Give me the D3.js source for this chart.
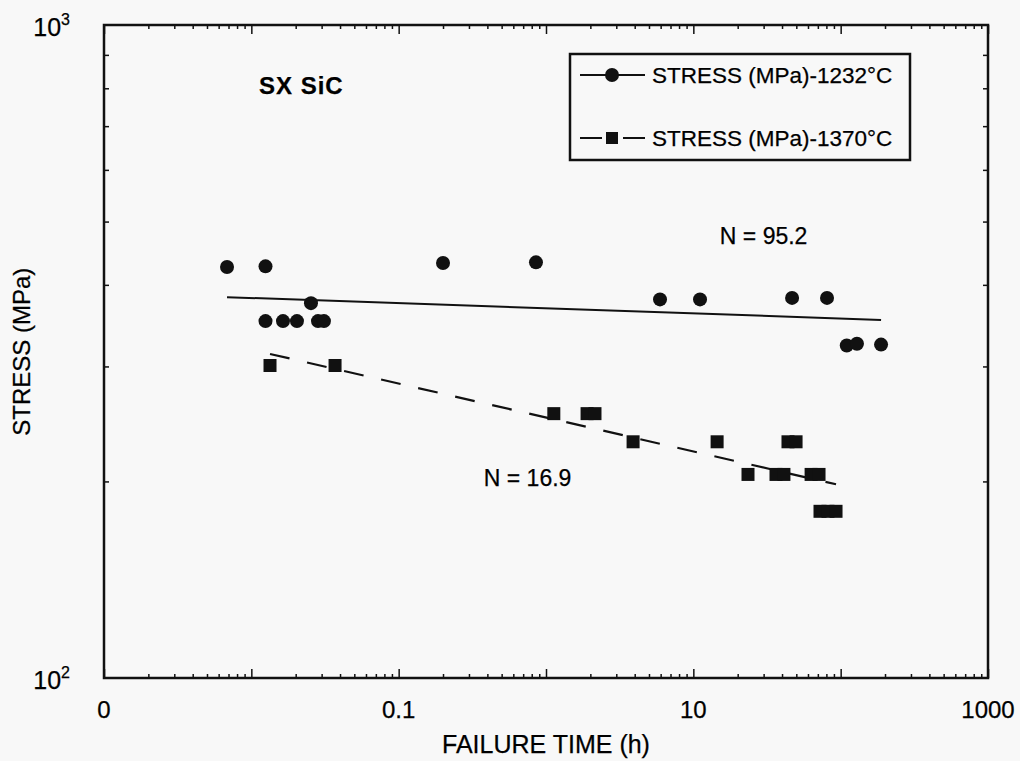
<!DOCTYPE html>
<meta charset="utf-8">
<script src="https://d3js.org/d3.v7.min.js"></script>
<style>
  body { margin: 0; background: #f8f8f8; }
  text { font-family: "Liberation Sans", Arial, sans-serif; fill: #000; stroke: #000; stroke-width: 0.25px; }
</style>
<div id="my_dataviz"></div>
<script>

// Series 1: 1232 C (failure time in h, stress in MPa)
var time1232 = [0.00684, 0.01248, 0.01248, 0.0164, 0.0204, 0.0254, 0.02835, 0.0311,
                0.2, 0.855, 5.94, 11.1, 46.8, 80.8, 110, 129, 188];
var stress1232 = [426, 427, 352, 352, 352, 375, 352, 352,
                  432, 433, 380, 380, 382, 382, 323, 325, 324];

// Series 2: 1370 C
var time1370 = [0.01339, 0.037, 1.13, 1.90, 2.15, 3.90, 14.5, 23.5, 36.4, 41.2,
                43.9, 49.8, 63, 71.3, 72.4, 82, 93];
var stress1370 = [301, 301, 254, 254, 254, 230, 230, 205, 205, 205,
                  230, 230, 205, 205, 180, 180, 180];

// Fitted lines (end points)
var fit1232 = [[0.00684, 383], [188, 353.5]];
var fit1370 = [[0.01339, 313.5], [93, 198]];

var fitLabels = ["N = 95.2", "N = 16.9"];
var fitLabelPos = [[30, 462], [0.75, 197]];  // [time, stress] where the label sits

var seriesNames = ["STRESS (MPa)-1232\u00B0C", "STRESS (MPa)-1370\u00B0C"];

var xLabelTicks = [0.001, 0.1, 10, 1000];
var xLabelText = ["0", "0.1", "10", "1000"];
var yLabelTicks = [100, 1000];
var yLabelExp = ["2", "3"];

var margin = {top: 25, right: 32, bottom: 83, left: 104},
    width = 1020 - margin.left - margin.right,
    height = 761 - margin.top - margin.bottom;

var svg = d3.select("#my_dataviz")
  .append("svg")
    .attr("width", 1020)
    .attr("height", 761)
  .append("g")
    .attr("transform", "translate(" + margin.left + "," + margin.top + ")");

var x = d3.scaleLog().domain([0.001, 1000]).range([0, width]);
var y = d3.scaleLog().domain([100, 1000]).range([height, 0]);

var xMinor = x.ticks().filter(function(d) { return Math.abs(Math.log10(d) % 1) > 1e-6; });
var xMajor = x.ticks().filter(function(d) { return Math.abs(Math.log10(d) % 1) < 1e-6; });
var yMinor = y.ticks().filter(function(d) { return d > 100 && d < 1000; });

function tickAxis(axis, values, size) {
  return axis.tickValues(values).tickSize(-size).tickFormat("");
}

// inward ticks on all four sides
var axes = [
  [d3.axisBottom, "translate(0," + height + ")"],
  [d3.axisTop, "translate(0,0)"]
];
axes.forEach(function(a) {
  var g1 = svg.append("g").attr("transform", a[1]).call(tickAxis(a[0](x), xMinor, 4));
  var g2 = svg.append("g").attr("transform", a[1]).call(tickAxis(a[0](x), xMajor, 9));
  [g1, g2].forEach(function(g) {
    g.select(".domain").remove();
    g.selectAll("line").attr("stroke", "#111").attr("stroke-width", 1.5);
  });
});
[[d3.axisLeft, "translate(0,0)"], [d3.axisRight, "translate(" + width + ",0)"]].forEach(function(a) {
  var g = svg.append("g").attr("transform", a[1]).call(tickAxis(a[0](y), yMinor, 5));
  g.select(".domain").remove();
  g.selectAll("line").attr("stroke", "#111").attr("stroke-width", 1.5);
});

// frame
svg.append("rect")
  .attr("x", 0).attr("y", 0)
  .attr("width", width).attr("height", height)
  .attr("fill", "none")
  .attr("stroke", "#111")
  .attr("stroke-width", 2.5);

// x tick labels
svg.selectAll(".xlab")
  .data(xLabelTicks)
  .enter().append("text")
    .attr("x", function(d) { return x(d); })
    .attr("y", height + 40)
    .attr("text-anchor", "middle")
    .style("font-size", "24px")
    .text(function(d, i) { return xLabelText[i]; });

// y tick labels (10^n)
var ylab = svg.selectAll(".ylab")
  .data(yLabelTicks)
  .enter().append("text")
    .attr("x", -34)
    .attr("y", function(d) { return y(d) + 11; })
    .attr("text-anchor", "end")
    .style("font-size", "25px");
ylab.append("tspan").text("10");
ylab.append("tspan")
  .attr("dy", -11)
  .style("font-size", "16px")
  .text(function(d, i) { return yLabelExp[i]; });

// axis titles
svg.append("text")
  .attr("x", x(1))
  .attr("y", height + 75)
  .attr("text-anchor", "middle")
  .style("font-size", "25px")
  .text("FAILURE TIME (h)");

svg.append("text")
  .attr("transform", "translate(" + (-74) + "," + y(316) + ") rotate(-90)")
  .attr("text-anchor", "middle")
  .style("font-size", "24px")
  .text("STRESS (MPa)");

// fit lines
var line = d3.line()
  .x(function(d) { return x(d[0]); })
  .y(function(d) { return y(d[1]); });

svg.append("path")
  .datum(fit1232)
  .attr("d", line)
  .attr("fill", "none")
  .attr("stroke", "#111")
  .attr("stroke-width", 2);

svg.append("path")
  .datum(fit1370)
  .attr("d", line)
  .attr("fill", "none")
  .attr("stroke", "#111")
  .attr("stroke-width", 2.2)
  .attr("stroke-dasharray", "20,18");

// points
var circles = time1232.map(function(t, i) { return {t: t, s: stress1232[i]}; });
var squares = time1370.map(function(t, i) { return {t: t, s: stress1370[i]}; });

svg.selectAll(".c1232")
  .data(circles)
  .enter().append("circle")
    .attr("cx", function(d) { return x(d.t); })
    .attr("cy", function(d) { return y(d.s); })
    .attr("r", 7)
    .attr("fill", "#111");

svg.selectAll(".s1370")
  .data(squares)
  .enter().append("rect")
    .attr("x", function(d) { return x(d.t) - 6.5; })
    .attr("y", function(d) { return y(d.s) - 6.5; })
    .attr("width", 13)
    .attr("height", 13)
    .attr("fill", "#111");

// N labels
svg.selectAll(".nlab")
  .data(fitLabels)
  .enter().append("text")
    .attr("x", function(d, i) { return x(fitLabelPos[i][0]); })
    .attr("y", function(d, i) { return y(fitLabelPos[i][1]); })
    .attr("text-anchor", "middle")
    .style("font-size", "23px")
    .text(function(d) { return d; });

// material label
svg.append("text")
  .attr("x", 155)
  .attr("y", 69)
  .style("font-size", "24px")
  .style("font-weight", "bold")
  .style("letter-spacing", "1px")
  .text("SX SiC");

// legend
var lg = svg.append("g").attr("transform", "translate(466,29)");
lg.append("rect")
  .attr("width", 340).attr("height", 106)
  .attr("fill", "none")
  .attr("stroke", "#111")
  .attr("stroke-width", 2.5);

var legendRows = [21, 84];
seriesNames.forEach(function(name, i) {
  var row = lg.append("g").attr("transform", "translate(0," + legendRows[i] + ")");
  row.append("line")
    .attr("x1", 10).attr("x2", 75)
    .attr("stroke", "#111")
    .attr("stroke-width", 2)
    .attr("stroke-dasharray", i === 0 ? null : "22,21");
  if (i === 0) {
    row.append("circle").attr("cx", 42).attr("r", 7).attr("fill", "#111");
  } else {
    row.append("rect").attr("x", 36).attr("y", -6).attr("width", 12).attr("height", 12).attr("fill", "#111");
  }
  row.append("text")
    .attr("x", 82)
    .attr("y", 8)
    .style("font-size", "22.5px")
    .text(name);
});

</script>
